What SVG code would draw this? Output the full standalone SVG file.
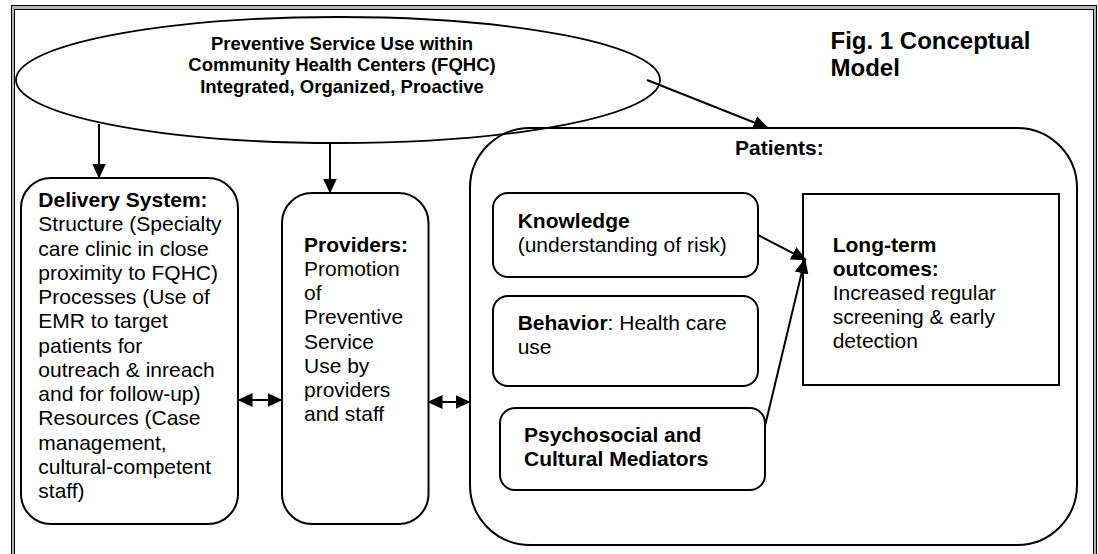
<svg xmlns="http://www.w3.org/2000/svg" width="1098" height="554" viewBox="0 0 1098 554">
  <defs>
    <marker id="head" viewBox="0 0 15 14" markerWidth="15" markerHeight="14" refX="14.5" refY="7" orient="auto-start-reverse" markerUnits="userSpaceOnUse">
      <path d="M0,0 L15,7 L0,14 z" fill="#000"/>
    </marker>
    <style>
      .box { fill: none; stroke: #000; stroke-width: 2; }
      .edge { fill: none; stroke: #000; stroke-width: 2; marker-end: url(#head); }
      .both { marker-start: url(#head); }
      text { font-family: "Liberation Sans", Arial, sans-serif; fill: #000; }
      .body { font-size: 21px; }
      .b { font-weight: bold; }
      .oval { font-size: 18.5px; font-weight: bold; text-anchor: middle; }
      .title { font-size: 24px; font-weight: bold; }
    </style>
  </defs>

  <rect width="1098" height="554" fill="#fff"/>

  <!-- double page frame: black / grey / black -->
  <g id="frame">
    <rect x="11" y="5" width="1086" height="600" fill="#000"/>
    <rect x="12" y="6" width="1084" height="600" fill="#b4b4b4"/>
    <rect x="14" y="9" width="1080" height="600" fill="#000"/>
    <rect x="15" y="10" width="1078" height="600" fill="#fff"/>
  </g>

  <g id="title">
    <text class="title" x="830.5" y="48.5">Fig. 1 Conceptual</text>
    <text class="title" x="830.5" y="75.5">Model</text>
  </g>

  <g id="fqhc">
    <ellipse cx="338" cy="80" rx="322" ry="63" fill="none" stroke="#000" stroke-width="1.8"/>
    <text class="oval" x="342" y="50">Preventive Service Use within</text>
    <text class="oval" x="342" y="71.3">Community Health Centers (FQHC)</text>
    <text class="oval" x="342" y="92.6">Integrated, Organized, Proactive</text>
  </g>

  <g id="delivery-system">
    <rect class="box" x="21" y="178" width="217" height="346" rx="30" ry="30"/>
    <text class="body" x="38.3" y="207">
      <tspan class="b">Delivery System:</tspan>
      <tspan x="38.3" dy="24.25">Structure (Specialty</tspan>
      <tspan x="38.3" dy="24.25">care clinic in close</tspan>
      <tspan x="38.3" dy="24.25">proximity to FQHC)</tspan>
      <tspan x="38.3" dy="24.25">Processes (Use of</tspan>
      <tspan x="38.3" dy="24.25">EMR to target</tspan>
      <tspan x="38.3" dy="24.25">patients for</tspan>
      <tspan x="38.3" dy="24.25">outreach &amp; inreach</tspan>
      <tspan x="38.3" dy="24.25">and for follow-up)</tspan>
      <tspan x="38.3" dy="24.25">Resources (Case</tspan>
      <tspan x="38.3" dy="24.25">management,</tspan>
      <tspan x="38.3" dy="24.25">cultural-competent</tspan>
      <tspan x="38.3" dy="24.25">staff)</tspan>
    </text>
  </g>

  <g id="providers">
    <rect class="box" x="282" y="193" width="146.5" height="331" rx="30" ry="30"/>
    <text class="body" x="304" y="251.5">
      <tspan class="b">Providers:</tspan>
      <tspan x="304" dy="24.25">Promotion</tspan>
      <tspan x="304" dy="24.25">of</tspan>
      <tspan x="304" dy="24.25">Preventive</tspan>
      <tspan x="304" dy="24.25">Service</tspan>
      <tspan x="304" dy="24.25">Use by</tspan>
      <tspan x="304" dy="24.25">providers</tspan>
      <tspan x="304" dy="24.25">and staff</tspan>
    </text>
  </g>

  <g id="patients">
    <rect class="box" x="470" y="128" width="607" height="417" rx="60" ry="60"/>
    <text class="body b" x="735" y="155">Patients:</text>
  </g>

  <g id="knowledge">
    <rect class="box" x="493" y="193" width="265" height="84" rx="15" ry="15"/>
    <text class="body b" x="517.7" y="227.7">Knowledge</text>
    <text class="body" x="517.7" y="251.7">(understanding of risk)</text>
  </g>

  <g id="behavior">
    <rect class="box" x="493" y="296" width="265" height="90" rx="15" ry="15"/>
    <text class="body" x="517.7" y="330"><tspan class="b">Behavior</tspan>: Health care</text>
    <text class="body" x="517.7" y="354">use</text>
  </g>

  <g id="mediators">
    <rect class="box" x="500" y="408" width="265" height="82" rx="15" ry="15"/>
    <text class="body b" x="524" y="441.7">Psychosocial and</text>
    <text class="body b" x="524" y="466">Cultural Mediators</text>
  </g>

  <g id="outcomes">
    <rect class="box" x="803" y="194" width="256" height="191"/>
    <text class="body" x="832.7" y="251.7">
      <tspan class="b">Long-term</tspan>
      <tspan class="b" x="832.7" dy="24">outcomes:</tspan>
      <tspan x="832.7" dy="24">Increased regular</tspan>
      <tspan x="832.7" dy="24">screening &amp; early</tspan>
      <tspan x="832.7" dy="24">detection</tspan>
    </text>
  </g>

  <g id="connectors">
    <line class="edge" x1="99" y1="124" x2="99" y2="178"/>
    <line class="edge" x1="330" y1="142" x2="330" y2="193"/>
    <line class="edge" x1="647" y1="80" x2="768" y2="128"/>
    <line class="edge both" x1="238" y1="400" x2="282" y2="400"/>
    <line class="edge both" x1="428" y1="402" x2="470" y2="402"/>
    <line class="edge" x1="758" y1="235" x2="806" y2="260"/>
    <line class="edge" x1="765" y1="426" x2="805" y2="259"/>
  </g>
</svg>
